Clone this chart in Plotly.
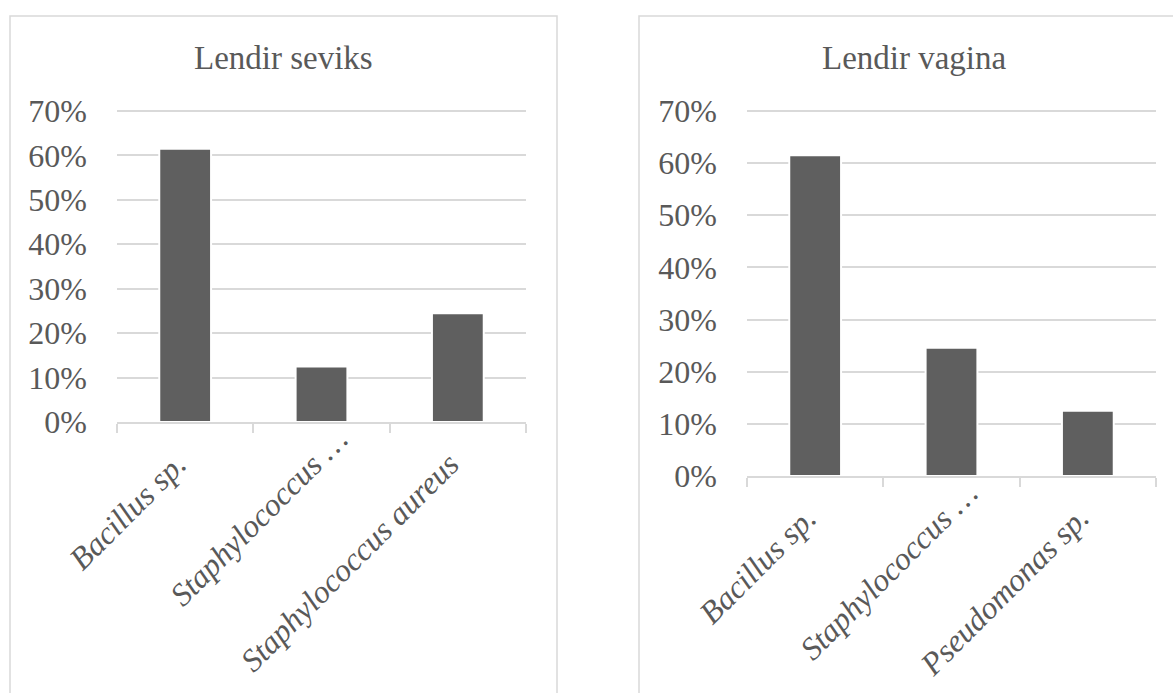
import plotly.graph_objects as go

# ---- data ----
title_left = "Lendir seviks"
cats_left = ["Bacillus sp.", "Staphylococcus …", "Staphylococcus aureus"]
vals_left = [0.615, 0.125, 0.245]

title_right = "Lendir vagina"
cats_right = ["Bacillus sp.", "Staphylococcus …", "Pseudomonas sp."]
vals_right = [0.615, 0.246, 0.125]

y_ticks = [0, 0.1, 0.2, 0.3, 0.4, 0.5, 0.6, 0.7]
y_ticktext = ["0%", "10%", "20%", "30%", "40%", "50%", "60%", "70%"]

W, H = 1173, 693
TXT = "#595959"
GRID = "#d9d9d9"
BAR = "#5f5f5f"
FONT = "Liberation Serif"
YMAX = 0.72  # small headroom so the 70% gridline is drawn
AX_Y = {"y": 422, "y2": 476}   # pixel row of each panel's 0% axis

fig = go.Figure()
fig.add_trace(go.Bar(x=cats_left, y=vals_left, xaxis="x", yaxis="y",
                     marker=dict(color=BAR, line=dict(color="white", width=2)),
                     showlegend=False, hoverinfo="x+y"))
fig.add_trace(go.Bar(x=cats_right, y=vals_right, xaxis="x2", yaxis="y2",
                     marker=dict(color=BAR, line=dict(color="white", width=2)),
                     showlegend=False, hoverinfo="x+y"))

def xax(domain, anchor, cats):
    return dict(domain=domain, anchor=anchor, type="category", automargin=False,
                categoryorder="array", categoryarray=cats, range=[-0.5, len(cats) - 0.5],
                showline=True, linecolor=GRID, linewidth=1.5,
                ticks="outside", tickson="boundaries", ticklen=9, tickcolor=GRID, tickwidth=1.5,
                showticklabels=False, showgrid=False, zeroline=False)

def yax(y0px, y70px, anchor):
    ppu = (y0px - y70px) / 0.7
    top = y0px - ppu * YMAX
    return dict(domain=[1 - y0px / H, 1 - top / H], anchor=anchor, range=[0, YMAX],
                automargin=False, tickvals=y_ticks, ticktext=y_ticktext,
                showgrid=True, gridcolor=GRID, gridwidth=1.5,
                zeroline=False, showline=False, ticks="", ticklabelstandoff=29,
                tickfont=dict(family=FONT, size=32, color=TXT))

# rotated category labels (Excel style), placed on the category axis scale
annotations = []
for cats, xr, yr in [(cats_left, "x", "y"), (cats_right, "x2", "y2")]:
    for i, c in enumerate(cats):
        truncated = c.endswith("…")
        annotations.append(dict(
            text=c, x=i, xref=xr, y=1 - AX_Y[yr] / H, yref="paper",
            textangle=-45, xanchor="right", yanchor="top", showarrow=False,
            xshift=36 if truncated else 11, yshift=4 if truncated else -21,
            font=dict(family=FONT, size=32, color=TXT, style="italic")))

annotations += [
    dict(text=title_left, x=283 / W, y=1 - 58 / H, xref="paper", yref="paper",
         showarrow=False, xanchor="center", yanchor="middle",
         font=dict(family=FONT, size=33, color=TXT)),
    dict(text=title_right, x=914 / W, y=1 - 58 / H, xref="paper", yref="paper",
         showarrow=False, xanchor="center", yanchor="middle",
         font=dict(family=FONT, size=33, color=TXT)),
]

fig.update_layout(
    width=W, height=H,
    margin=dict(l=0, r=0, t=0, b=0, autoexpand=False),
    paper_bgcolor="white", plot_bgcolor="white",
    bargap=0.62,
    xaxis=xax([117 / W, 526 / W], "y", cats_left),
    yaxis=yax(422, 111, "x"),
    xaxis2=xax([747 / W, 1156 / W], "y2", cats_right),
    yaxis2=yax(476, 111, "x2"),
    annotations=annotations,
    shapes=[
        dict(type="rect", xref="paper", yref="paper",
             x0=10 / W, x1=557 / W, y0=-0.2, y1=1 - 16 / H,
             line=dict(color=GRID, width=1.5), fillcolor="rgba(0,0,0,0)", layer="below"),
        dict(type="rect", xref="paper", yref="paper",
             x0=639 / W, x1=1.2, y0=-0.2, y1=1 - 16 / H,
             line=dict(color=GRID, width=1.5), fillcolor="rgba(0,0,0,0)", layer="below"),
    ],
)

fig.write_html("out.html", config={"displayModeBar": False},
               post_script="document.body.style.margin='0';document.body.style.overflow='hidden';")
